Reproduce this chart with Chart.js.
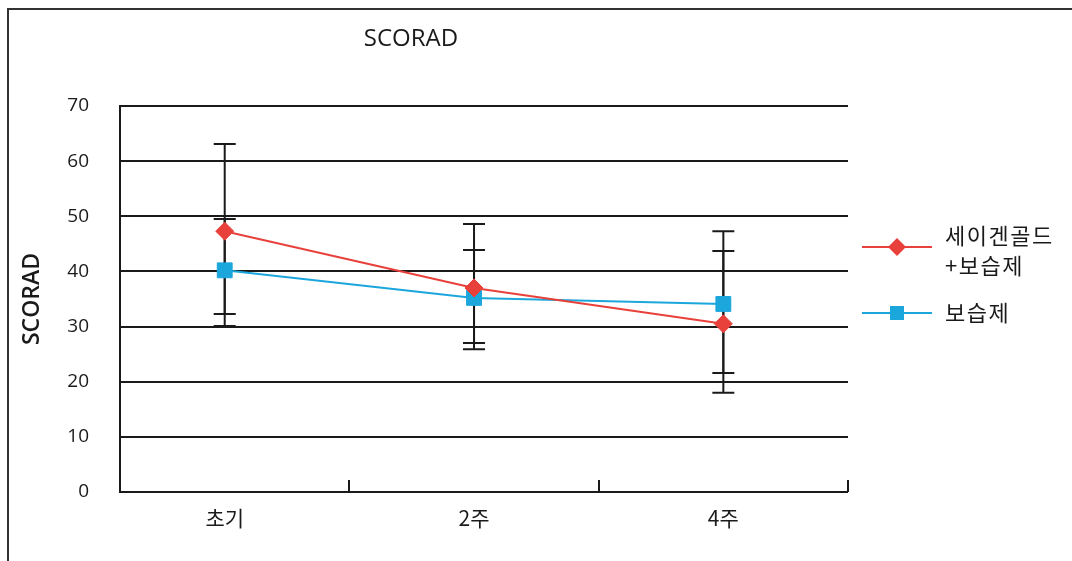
<!DOCTYPE html>
<html>
<head>
<meta charset="utf-8">
<script src="https://cdn.jsdelivr.net/npm/chart.js@4/dist/chart.umd.min.js"></script>
<style>
	html, body { margin: 0; padding: 0; background: #fff; overflow: hidden; }
	#wrap { position: relative; width: 1072px; height: 561px; }
	#frame { position: absolute; left: 7px; top: 8px; width: 2000px; height: 2000px;
		border-left: 2px solid #333; border-top: 2px solid #333; pointer-events: none; }
</style>
</head>
<body>
<div id="wrap">
	<canvas id="scorad"></canvas>
	<div id="frame"></div>
</div>
<script>
const weeks = ['초기', '2주', '4주'];

const goldMean = [47.3, 37.0, 30.5];
const goldHigh = [63.1, 48.6, 43.7];
const goldLow = [32.3, 25.9, 18.0];

const moistMean = [40.2, 35.2, 34.1];
const moistHigh = [49.5, 43.9, 47.3];
const moistLow = [30.1, 27.0, 21.6];

const seriesNames = ['세이겐골드\n+보습제', '보습제'];

const RED = '#e8413b';
const BLUE = '#1ba6dc';
const INK = '#1a1a1a';
const LATIN = '"Open Sans", sans-serif';
const HANGUL = '"Noto Sans CJK KR", sans-serif';

const toPoints = (arr) => arr.map((v, i) => ({ x: i, y: v }));

// black whiskers with caps, drawn under the lines and markers
const errorBars = {
	id: 'errorBars',
	beforeDatasetsDraw(chart) {
		const { ctx, scales: { x, y } } = chart;
		ctx.save();
		ctx.strokeStyle = INK;
		ctx.lineWidth = 2;
		chart.data.datasets.forEach((ds) => {
			ds.errHigh.forEach((hi, i) => {
				const px = x.getPixelForValue(i);
				const top = y.getPixelForValue(hi);
				const bot = y.getPixelForValue(ds.errLow[i]);
				ctx.beginPath();
				ctx.moveTo(px, top); ctx.lineTo(px, bot);
				ctx.moveTo(px - 11, top); ctx.lineTo(px + 11, top);
				ctx.moveTo(px - 11, bot); ctx.lineTo(px + 11, bot);
				ctx.stroke();
			});
		});
		ctx.restore();
	}
};

// short upward ticks between the categories, plus titles and legend
const extras = {
	id: 'extras',
	afterDraw(chart) {
		const { ctx, chartArea: area, scales: { x } } = chart;
		ctx.save();
		ctx.strokeStyle = INK;
		ctx.lineWidth = 2;
		const edges = [x.min, 0.5, 1.5, x.max];
		edges.forEach((v) => {
			const px = Math.round(x.getPixelForValue(v));
			ctx.beginPath();
			ctx.moveTo(px, area.bottom);
			ctx.lineTo(px, area.bottom - 12);
			ctx.stroke();
		});

		ctx.fillStyle = INK;
		ctx.font = '500 24px ' + LATIN;
		ctx.textAlign = 'center';
		ctx.textBaseline = 'middle';
		ctx.fillText('SCORAD', 411, 39);

		// legend at the right
		const rows = [
			{ ds: chart.data.datasets[0], y: 247, textY: [236, 266] },
			{ ds: chart.data.datasets[1], y: 313, textY: [313] }
		];
		ctx.textAlign = 'left';
		ctx.font = '22px ' + HANGUL;
		ctx.letterSpacing = '1.5px';
		rows.forEach(({ ds, y, textY }) => {
			ctx.strokeStyle = ds.borderColor;
			ctx.lineWidth = 2;
			ctx.beginPath();
			ctx.moveTo(862, y); ctx.lineTo(932, y);
			ctx.stroke();
			ctx.fillStyle = ds.pointBackgroundColor;
			ctx.beginPath();
			if (ds.pointStyle === 'rectRot') {
				ctx.moveTo(897 - 9, y); ctx.lineTo(897, y - 9);
				ctx.lineTo(897 + 9, y); ctx.lineTo(897, y + 9);
			} else {
				ctx.rect(897 - 7, y - 7, 14, 14);
			}
			ctx.closePath();
			ctx.fill();
			ctx.fillStyle = INK;
			ds.label.split('\n').forEach((line, k) => ctx.fillText(line, 945, textY[k]));
		});
		ctx.restore();
	}
};

new Chart(document.getElementById('scorad'), {
	type: 'line',
	data: {
		datasets: [
			{
				label: seriesNames[0],
				data: toPoints(goldMean),
				errHigh: goldHigh,
				errLow: goldLow,
				borderColor: RED,
				borderWidth: 2,
				pointStyle: 'rectRot',
				pointRadius: 9,
				pointBackgroundColor: RED,
				pointBorderColor: RED,
				pointBorderWidth: 1
			},
			{
				label: seriesNames[1],
				data: toPoints(moistMean),
				errHigh: moistHigh,
				errLow: moistLow,
				borderColor: BLUE,
				borderWidth: 2,
				pointStyle: 'rect',
				pointRadius: 10.5,
				pointBackgroundColor: BLUE,
				pointBorderColor: BLUE,
				pointBorderWidth: 1
			}
		]
	},
	options: {
		responsive: true,
		maintainAspectRatio: false,
		animation: false,
		layout: { padding: { top: 106, right: 224, left: 0, bottom: 0 } },
		plugins: { legend: { display: false }, tooltip: { enabled: false }, title: { display: false } },
		scales: {
			x: {
				type: 'linear',
				min: -0.42,
				max: 2.5,
				afterBuildTicks: (s) => { s.ticks = weeks.map((_, i) => ({ value: i })); },
				afterFit: (s) => { s.height = 69; },
				grid: { display: false },
				border: { display: false },
				ticks: {
					callback: (v) => weeks[v],
					color: INK,
					padding: 5,
					maxRotation: 0,
					font: { family: HANGUL, size: 21 }
				}
			},
			y: {
				min: 0,
				max: 70,
				afterFit: (s) => { s.width = 120; },
				grid: { color: INK, lineWidth: 2, drawTicks: false },
				border: { display: true, color: INK, width: 2 },
				ticks: {
					stepSize: 10,
					color: INK,
					padding: 31,
					font: { family: LATIN, size: 19, weight: '500' }
				},
				title: {
					display: true,
					text: 'SCORAD',
					color: INK,
					padding: { top: 19 },
					font: { family: LATIN, size: 23, weight: '600' }
				}
			}
		}
	},
	plugins: [errorBars, extras]
});
</script>
</body>
</html>
